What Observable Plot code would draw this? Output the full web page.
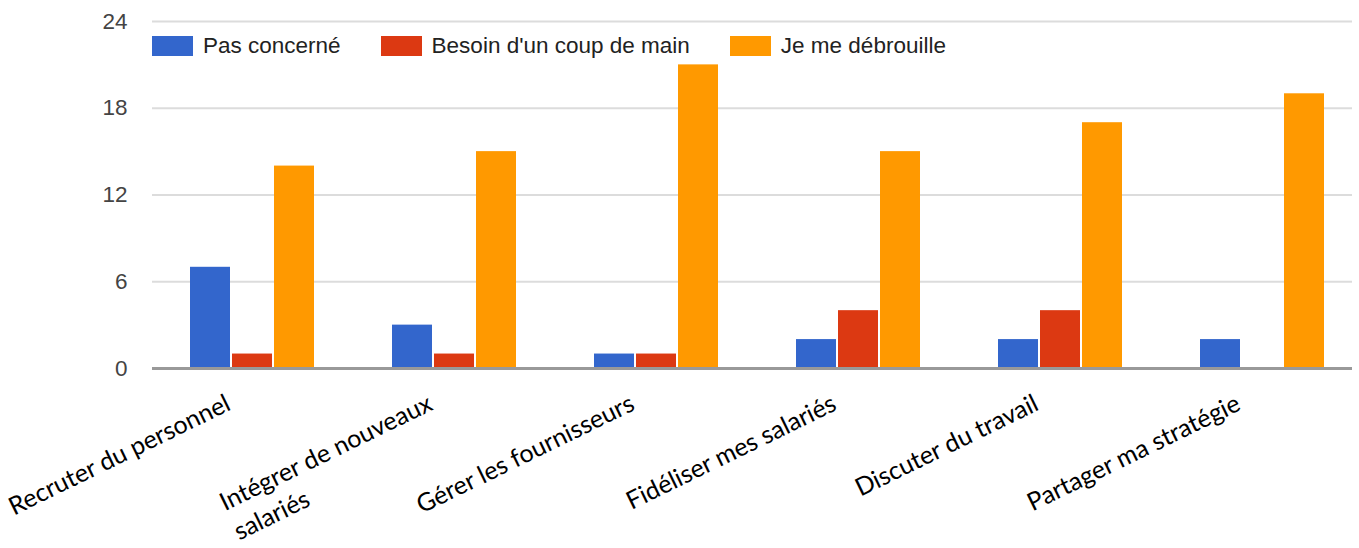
<!DOCTYPE html>
<html>
<head>
<meta charset="utf-8">
<script src="https://cdn.jsdelivr.net/npm/d3@7"></script>
<script src="https://cdn.jsdelivr.net/npm/@observablehq/plot@0.6"></script>
<style>
  body { margin: 0; background: #fff; }
  #chart { position: relative; width: 1359px; height: 548px; overflow: hidden; }
  #chart > svg { position: absolute; left: 0; top: 0; background: transparent; }
  #legend { position: absolute; left: 152px; top: 33px; display: flex; align-items: center;
            font-family: "Liberation Sans", Arial, sans-serif; font-size: 22.5px; color: #222; }
  #legend .item { display: flex; align-items: center; margin-right: 40px; }
  #legend .sw { width: 41px; height: 20px; margin-right: 10px; }
</style>
</head>
<body>
<div id="chart"><div id="legend"></div></div>
<script>
const categories = [
  "Recruter du personnel",
  "Intégrer de nouveaux\nsalariés",
  "Gérer les fournisseurs",
  "Fidéliser mes salariés",
  "Discuter du travail",
  "Partager ma stratégie"
];
const series = ["Pas concerné", "Besoin d'un coup de main", "Je me débrouille"];
const pasConcerne = [7, 3, 1, 2, 2, 2];
const besoinCoupDeMain = [1, 1, 1, 4, 4, 0];
const jeMeDebrouille = [14, 15, 21, 15, 17, 19];
const colors = ["#3366cc", "#dc3912", "#ff9900"];
const yTicks = [0, 6, 12, 18, 24];

const seriesValues = [pasConcerne, besoinCoupDeMain, jeMeDebrouille];
const data = categories.flatMap((c, i) =>
  series.map((s, j) => ({category: c, series: s, value: seriesValues[j][i]}))
);

const frame = {
  width: 1359, height: 548,
  marginLeft: 152, marginRight: 7, marginTop: 21, marginBottom: 180,
  style: {background: "transparent", overflow: "visible"}
};
const yScale = {domain: [0, 24], axis: null};

// Layer 1: gridlines and y axis
const bgLayer = Plot.plot({
  ...frame,
  x: {axis: null},
  y: yScale,
  marks: [
    Plot.ruleY(yTicks.filter(d => d > 0), {stroke: "#dcdcdc", strokeWidth: 2}),
    Plot.axisY(yTicks, {tickSize: 0, tickPadding: 25, label: null, fontSize: 22.5,
      fontFamily: "Liberation Sans, Arial, sans-serif", fill: "#444"})
  ]
});

// Layer 2: grouped bars and category labels
const barLayer = Plot.plot({
  ...frame,
  fx: {domain: categories, range: [150, 1363], paddingInner: 0.35, paddingOuter: 0.175},
  x: {domain: series, padding: 0.05, axis: null},
  y: yScale,
  color: {domain: series, range: colors},
  marks: [
    Plot.barY(data, {fx: "category", x: "series", y: "value", fill: "series"}),
    Plot.axisFx({anchor: "bottom", tickSize: 0, tickPadding: 20, dx: -30, tickRotate: -26,
      textAnchor: "end", lineAnchor: "top", lineHeight: 1.3, label: null, fontSize: 25,
      fontFamily: "Lato, sans-serif", fill: "#000"})
  ]
});

// Layer 3: baseline
const baseLayer = Plot.plot({
  ...frame,
  x: {axis: null},
  y: yScale,
  marks: [Plot.ruleY([0], {stroke: "#999", strokeWidth: 3})]
});

const chart = document.getElementById("chart");
chart.prepend(bgLayer);
chart.appendChild(barLayer);
chart.appendChild(baseLayer);

// left-align multi-line category labels within their end-anchored block
barLayer.querySelectorAll("text").forEach(t => {
  const spans = t.querySelectorAll("tspan");
  if (spans.length > 1) {
    const w = d3.max(Array.from(spans), s => s.getComputedTextLength());
    t.setAttribute("text-anchor", "start");
    spans.forEach(s => s.setAttribute("x", -w));
  }
});

const legend = document.getElementById("legend");
series.forEach((s, i) => {
  const item = document.createElement("div");
  item.className = "item";
  const sw = document.createElement("div");
  sw.className = "sw";
  sw.style.background = colors[i];
  const label = document.createElement("span");
  label.textContent = s;
  item.append(sw, label);
  legend.appendChild(item);
});
</script>
</body>
</html>
